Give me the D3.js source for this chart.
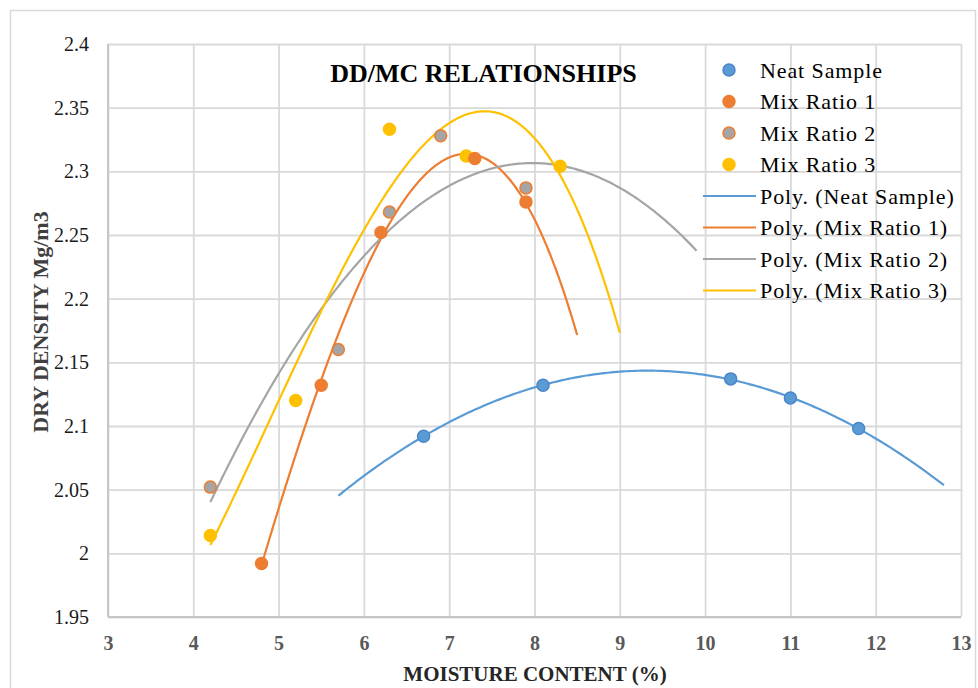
<!DOCTYPE html>
<html><head><meta charset="utf-8">
<script src="https://cdn.jsdelivr.net/npm/d3@7"></script>
<style>body{margin:0;background:#fff}svg{display:block}</style>
</head><body>
<script>
const seriesNames = ["Neat Sample","Mix Ratio 1","Mix Ratio 2","Mix Ratio 3"];
const neatX = [6.7, 8.1, 10.3, 11.0, 11.8];
const neatY = [2.092, 2.132, 2.137, 2.122, 2.098];
const mix1X = [4.8, 5.5, 6.2, 7.3, 7.9];
const mix1Y = [1.992, 2.132, 2.252, 2.310, 2.276];
const mix2X = [4.2, 5.7, 6.3, 6.9, 7.9];
const mix2Y = [2.052, 2.160, 2.268, 2.328, 2.287];
const mix3X = [4.2, 5.2, 6.3, 7.2, 8.3];
const mix3Y = [2.014, 2.120, 2.333, 2.312, 2.304];
const trendOrder = [2, 3, 2, 3];
const trendRange = [[5.7, 12.8], [4.8, 8.5], [4.2, 9.9], [4.2, 9.0]];
const xTicks = [3, 4, 5, 6, 7, 8, 9, 10, 11, 12, 13];
const yTicks = [1.95, 2, 2.05, 2.1, 2.15, 2.2, 2.25, 2.3, 2.35, 2.4];
const fillColors = ["#5B9BD5", "#ED7D31", "#A5A5A5", "#FFC000"];
const strokeColors = ["#4A86C8", "#ED7D31", "#ED7D31", "#FFC000"];
const lineColors = ["#5B9BD5", "#ED7D31", "#A5A5A5", "#FFC000"];

const W = 978, H = 688;
const margin = {left: 108, right: 17, top: 44, bottom: 71};
const iw = W - margin.left - margin.right, ih = H - margin.top - margin.bottom;

const svg = d3.select("body").append("svg").attr("width", W).attr("height", H);
svg.append("rect").attr("x", 10.5).attr("y", 10.5).attr("width", 965).attr("height", 690)
  .attr("fill", "none").attr("stroke", "#d9d9d9").attr("stroke-width", 1.5);

const x = d3.scaleLinear().domain([3, 13]).range([0, iw]);
const y = d3.scaleLinear().domain([1.95, 2.4]).range([ih, 0]);
const g = svg.append("g").attr("transform", `translate(${margin.left},${margin.top})`);

const serif = "'Liberation Serif','Times New Roman',Times,serif";

// gridlines / axes
const gx = g.append("g").attr("transform", `translate(0,${ih})`)
  .call(d3.axisBottom(x).tickValues(xTicks).tickFormat(d3.format("d")).tickSizeInner(-ih).tickSizeOuter(0).tickPadding(19));
const gy = g.append("g")
  .call(d3.axisLeft(y).tickValues(yTicks).tickFormat(d => String(d)).tickSizeInner(-iw).tickSizeOuter(0).tickPadding(19));
[gx, gy].forEach(a => {
  a.select(".domain").remove();
  a.selectAll(".tick line").attr("stroke", "#d9d9d9").attr("stroke-width", 1.8);
});
gx.selectAll(".tick text").attr("font-family", serif).attr("font-size", 20).attr("font-weight", "bold").attr("fill", "#595959");
gy.selectAll(".tick text").attr("font-family", serif).attr("font-size", 20).attr("fill", "#1a1a1a");
g.append("line").attr("x1", 0).attr("x2", 0).attr("y1", 0).attr("y2", ih).attr("stroke", "#c6c6c6").attr("stroke-width", 2);
g.append("line").attr("x1", 0).attr("x2", iw).attr("y1", ih).attr("y2", ih).attr("stroke", "#c6c6c6").attr("stroke-width", 2);

// polynomial least squares
function polyfit(xs, ys, order) {
  const n = order + 1;
  const A = Array.from({length: n}, () => new Array(n + 1).fill(0));
  for (let r = 0; r < n; r++) {
    for (let c = 0; c < n; c++) A[r][c] = d3.sum(xs, v => Math.pow(v, r + c));
    A[r][n] = d3.sum(xs, (v, i) => Math.pow(v, r) * ys[i]);
  }
  for (let i = 0; i < n; i++) {
    let p = i;
    for (let k = i + 1; k < n; k++) if (Math.abs(A[k][i]) > Math.abs(A[p][i])) p = k;
    [A[i], A[p]] = [A[p], A[i]];
    for (let k = 0; k < n; k++) {
      if (k === i) continue;
      const f = A[k][i] / A[i][i];
      for (let c = i; c <= n; c++) A[k][c] -= f * A[i][c];
    }
  }
  return A.map((row, i) => row[n] / row[i]);
}

const seriesX = [neatX, mix1X, mix2X, mix3X];
const seriesY = [neatY, mix1Y, mix2Y, mix3Y];
const line = d3.line().x(d => x(d[0])).y(d => y(d[1])).curve(d3.curveLinear);

seriesX.forEach((xs, s) => {
  const coef = polyfit(xs, seriesY[s], trendOrder[s]);
  const [a, b] = trendRange[s];
  const pts = d3.range(0, 201).map(i => {
    const xv = a + (b - a) * i / 200;
    return [xv, coef.reduce((acc, c, k) => acc + c * Math.pow(xv, k), 0)];
  });
  g.append("path").attr("d", line(pts)).attr("fill", "none")
    .attr("stroke", lineColors[s]).attr("stroke-width", 2.2);
});

[3, 2, 1, 0].forEach(s => {
  g.append("g").selectAll("circle").data(seriesX[s].map((v, i) => [v, seriesY[s][i]]))
    .join("circle").attr("cx", d => x(d[0])).attr("cy", d => y(d[1])).attr("r", 6)
    .attr("fill", fillColors[s]).attr("stroke", strokeColors[s]).attr("stroke-width", 1.5);
});

// title
svg.append("text").attr("x", 483.5).attr("y", 82).attr("text-anchor", "middle")
  .attr("font-family", serif).attr("font-size", 26).attr("font-weight", "bold").attr("fill", "#000")
  .text("DD/MC RELATIONSHIPS");

// axis titles
svg.append("text").attr("x", 535).attr("y", 681).attr("text-anchor", "middle")
  .attr("font-family", serif).attr("font-size", 21).attr("font-weight", "bold").attr("fill", "#262626")
  .text("MOISTURE CONTENT (%)");
svg.append("text").attr("transform", "translate(48,322) rotate(-90)").attr("text-anchor", "middle")
  .attr("font-family", serif).attr("font-size", 22).attr("font-weight", "bold").attr("fill", "#404040")
  .text("DRY DENSITY Mg/m3");

// legend
const legendLabels = seriesNames.concat(seriesNames.map(n => `Poly. (${n})`));
const lg = svg.append("g");
legendLabels.forEach((lab, i) => {
  const yy = 70 + i * 31.5;
  if (i < 4) {
    lg.append("circle").attr("cx", 729).attr("cy", yy).attr("r", 6)
      .attr("fill", fillColors[i]).attr("stroke", strokeColors[i]).attr("stroke-width", 1.5);
  } else {
    lg.append("line").attr("x1", 703).attr("x2", 756).attr("y1", yy).attr("y2", yy)
      .attr("stroke", lineColors[i - 4]).attr("stroke-width", 2.2);
  }
  lg.append("text").attr("x", 760).attr("y", yy + 7.5).attr("font-family", serif)
    .attr("font-size", 22).attr("letter-spacing", 0.9).attr("fill", "#000").text(lab);
});
</script>
</body></html>
